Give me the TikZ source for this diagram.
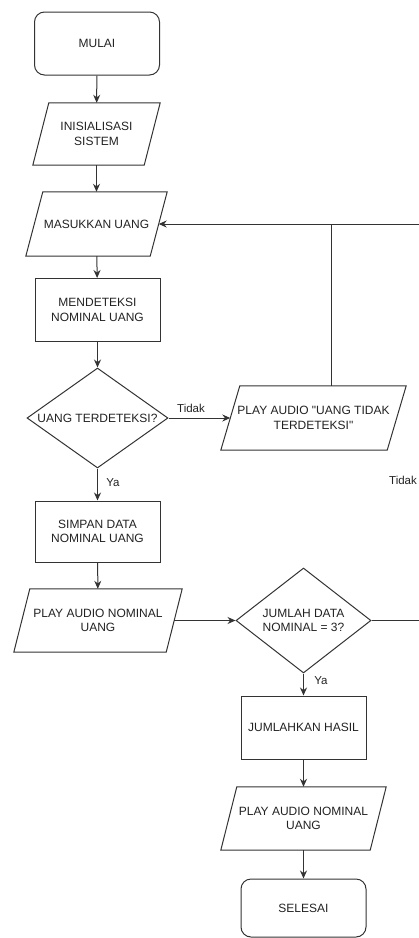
\documentclass[tikz,border=0pt]{standalone}
\usepackage{fontspec}
\setmainfont{Liberation Sans}[Ligatures=TeXOff]
\usetikzlibrary{shapes.geometric,arrows.meta}
\definecolor{linec}{HTML}{333333}
\definecolor{txtc}{HTML}{222222}
\newcommand{\ioshape}[2]{\draw[shapeline] ([xshift=#2pt]#1.north west) -- (#1.north east) -- ([xshift=-#2pt]#1.south east) -- (#1.south west) -- cycle;}
\begin{document}
\begin{tikzpicture}[x=1pt,y=-1pt,
  base/.style={font=\fontsize{12}{14.5}\selectfont, text=txtc, align=center, inner sep=0pt},
  shapeline/.style={draw=linec, line width=1pt},
  term/.style={base, shapeline, rectangle, rounded corners=10pt, minimum width=125pt, minimum height=#1},
  proc/.style={base, shapeline, rectangle, minimum width=125pt, minimum height=#1},
  iobox/.style={base, rectangle, minimum width=#1, minimum height=63pt},
  dec/.style={base, shapeline, diamond, aspect=1.4, minimum width=#1, minimum height=100pt},
  conn/.style={draw=linec, line width=1pt, -{Stealth[length=8pt,width=7pt]}},
  plain/.style={draw=linec, line width=1pt},
  lbl/.style={font=\fontsize{11.5}{13}\selectfont, text=txtc, inner sep=0pt}
]
\useasboundingbox (0,0) rectangle (419,938);

\node[term=63pt] (mulai) at (97,43.5) {MULAI};
\node[iobox=127pt, minimum height=62pt] (ini) at (96.5,134) {INISIALISASI\\SISTEM};
\ioshape{ini}{16}
\node[iobox=141pt, minimum height=64pt] (masuk) at (96.5,224) {MASUKKAN UANG};
\ioshape{masuk}{17}
\node[proc=63pt] (deteksi) at (97.5,310) {MENDETEKSI\\NOMINAL UANG};
\node[dec=141pt, minimum height=100pt] (q1) at (97.5,418) {UANG TERDETEKSI?};
\node[iobox=185pt, minimum height=64pt] (tidakio) at (313.5,418) {PLAY AUDIO "UANG TIDAK\\TERDETEKSI"};
\ioshape{tidakio}{19}
\node[proc=61pt] (simpan) at (97.5,531.5) {SIMPAN DATA\\NOMINAL UANG};
\node[iobox=168pt] (play1) at (98,620.5) {PLAY AUDIO NOMINAL\\UANG};
\ioshape{play1}{16}
\node[dec=135pt, minimum height=105pt] (q2) at (303.5,620.5) {JUMLAH DATA\\NOMINAL = 3?};
\node[proc=63pt] (jumlah) at (303.5,727.5) {JUMLAHKAN HASIL};
\node[iobox=165pt] (play2) at (303.5,818.5) {PLAY AUDIO NOMINAL\\UANG};
\ioshape{play2}{16}
\node[term=58pt] (selesai) at (303.5,908) {SELESAI};

\coordinate (rtop) at (419,224);
\coordinate (jn) at (331,224);
\coordinate (rmid) at (419,620.5);

\draw[conn] (mulai) -- (ini);
\draw[conn] (ini) -- (masuk);
\draw[conn] (masuk) -- (deteksi);
\draw[conn] (deteksi) -- (q1);
\draw[conn] (q1) -- (simpan);
\draw[conn] (q1.east) -- ([xshift=9.5pt]tidakio.west);
\draw[plain] (tidakio.north -| jn) -- (jn);
\draw[conn] (rtop) -- ([xshift=-8.5pt]masuk.east);
\draw[conn] (simpan) -- (play1);
\draw[conn] ([xshift=-8pt]play1.east) -- (q2.west);
\draw[plain] (q2.east) -- (rmid);
\draw[conn] (q2) -- (jumlah);
\draw[conn] (jumlah) -- (play2);
\draw[conn] (play2) -- (selesai);

\node[lbl] (t1) at (191,408) {Tidak};
\node[lbl] (y1) at (113,483) {Ya};
\node[lbl] (t2) at (403,480) {Tidak};
\node[lbl] (y2) at (321,681) {Ya};
\end{tikzpicture}
\end{document}
